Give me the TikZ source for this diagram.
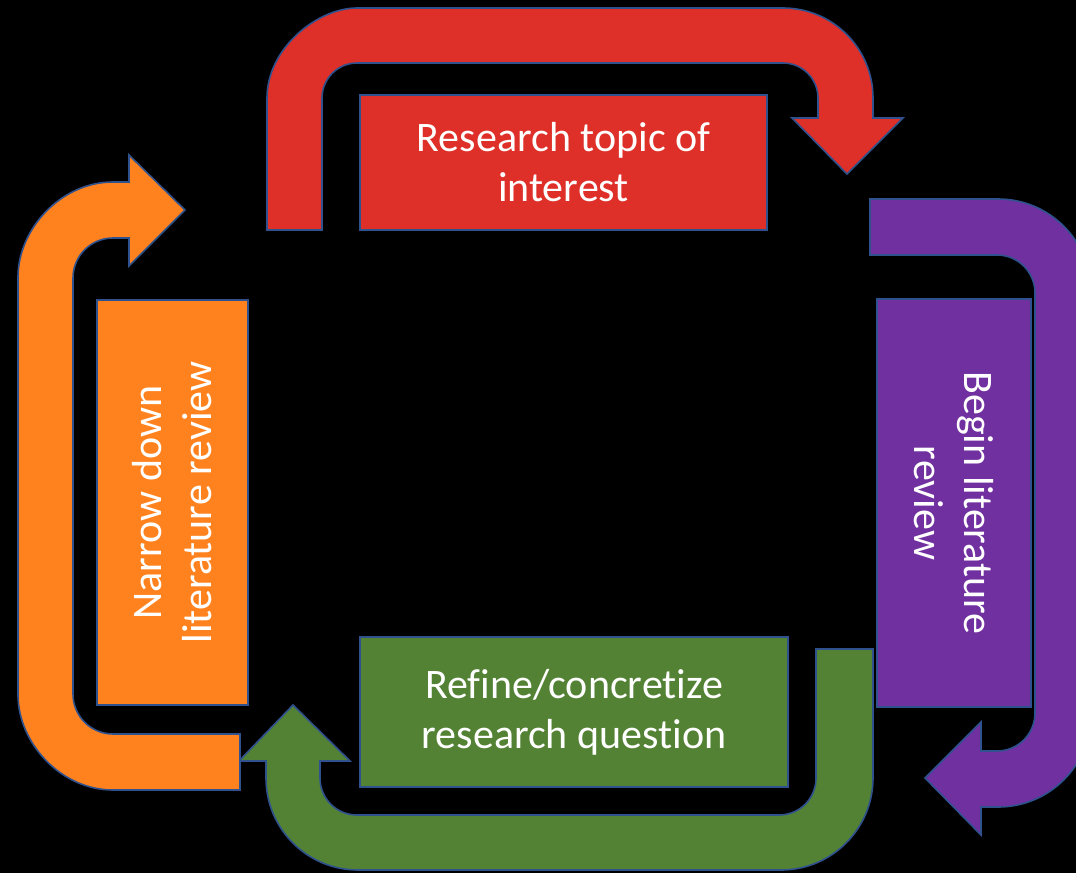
\documentclass[tikz,border=0pt]{standalone}
\usepackage{fontspec}
\setmainfont{Carlito}[Ligatures={NoCommon}]
\definecolor{cRed}{RGB}{222,47,40}
\definecolor{cPurple}{RGB}{112,48,160}
\definecolor{cGreen}{RGB}{84,130,53}
\definecolor{cOrange}{RGB}{255,130,30}
\definecolor{cEdge}{RGB}{47,82,143}
\tikzset{
  uarrow/.style={draw=cEdge, line width=1.6pt, line join=miter},
  stepfont/.style={font=\fontsize{42}{50}\selectfont},
  stepbox/.style={draw=cEdge, line width=1.6pt, inner sep=0pt, text=white, align=center, stepfont},
  steptext/.style={text=white, align=center, inner sep=0pt, stepfont},
}
\begin{document}
\begin{tikzpicture}[x=1pt,y=-1pt]
\fill[black] (0,0) rectangle (1076,873);
\useasboundingbox (0,0) rectangle (1076,873);
\begin{scope}
\clip (0,0) rectangle (1076,873);
% red U-turn arrow
\path[uarrow, fill=cRed] (267,230) -- (267,98)
  .. controls (267,48.3) and (317.3,8) .. (357,8) -- (783,8)
  .. controls (832.7,8) and (873,48.3) .. (873,98) -- (873,118) -- (903,118) -- (847,174) -- (792,118) -- (818,118) -- (818,98)
  .. controls (818,78.7) and (802.3,63) .. (783,63) -- (357,63)
  .. controls (337.7,63) and (322,78.7) .. (322,98) -- (322,230) -- cycle;
% purple U-turn arrow
\path[uarrow, fill=cPurple] (870,199) -- (998,199)
  .. controls (1049.4,199) and (1091,240.6) .. (1091,292) -- (1091,714)
  .. controls (1091,765.6) and (1049.4,807) .. (998,807) -- (981,807) -- (981,835) -- (925,778) -- (981,722) -- (981,751) -- (997,751)
  .. controls (1018,751) and (1035,734) .. (1035,713) -- (1035,293)
  .. controls (1035,272) and (1018,255) .. (997,255) -- (870,255) -- cycle;
% green U-turn arrow
\path[uarrow, fill=cGreen] (873,649) -- (873,778)
  .. controls (873,828.8) and (831.8,870) .. (781,870) -- (358,870)
  .. controls (307.2,870) and (266,828.8) .. (266,778) -- (266,761) -- (239,761) -- (293,705) -- (350,761) -- (320,761) -- (320,778)
  .. controls (320,798.6) and (336.4,815) .. (357,815) -- (779,815)
  .. controls (799.6,815) and (816,798.6) .. (816,778) -- (816,649) -- cycle;
% orange U-turn arrow
\path[uarrow, fill=cOrange] (240,790) -- (113,790)
  .. controls (60.5,790) and (18,742.5) .. (18,695) -- (18,277)
  .. controls (18,229.5) and (60.5,182) .. (113,182) -- (129,182) -- (129,155) -- (185,210) -- (129,266) -- (129,238) -- (113,238)
  .. controls (90.9,238) and (73,255.9) .. (73,278) -- (73,694)
  .. controls (73,716.1) and (90.9,734) .. (113,734) -- (240,734) -- cycle;
\end{scope}
% boxes
\node[stepbox, fill=cRed, minimum width=407pt, minimum height=135pt] (topic) at (563.5,162.5) {Research topic of\\interest};
\node[stepbox, fill=cPurple, minimum width=154pt, minimum height=408pt] (begin) at (954,503) {};
\node[steptext, rotate=-90] (begintext) at (begin.center) {Begin literature\\review};
\node[stepbox, fill=cGreen, minimum width=428pt, minimum height=150pt] (refine) at (574,712) {Refine/concretize\\research question};
\node[stepbox, fill=cOrange, minimum width=151pt, minimum height=405pt] (narrow) at (172.5,502.5) {};
\node[steptext, rotate=90] (narrowtext) at (narrow.center) {Narrow down\\literature review};
\end{tikzpicture}
\end{document}
